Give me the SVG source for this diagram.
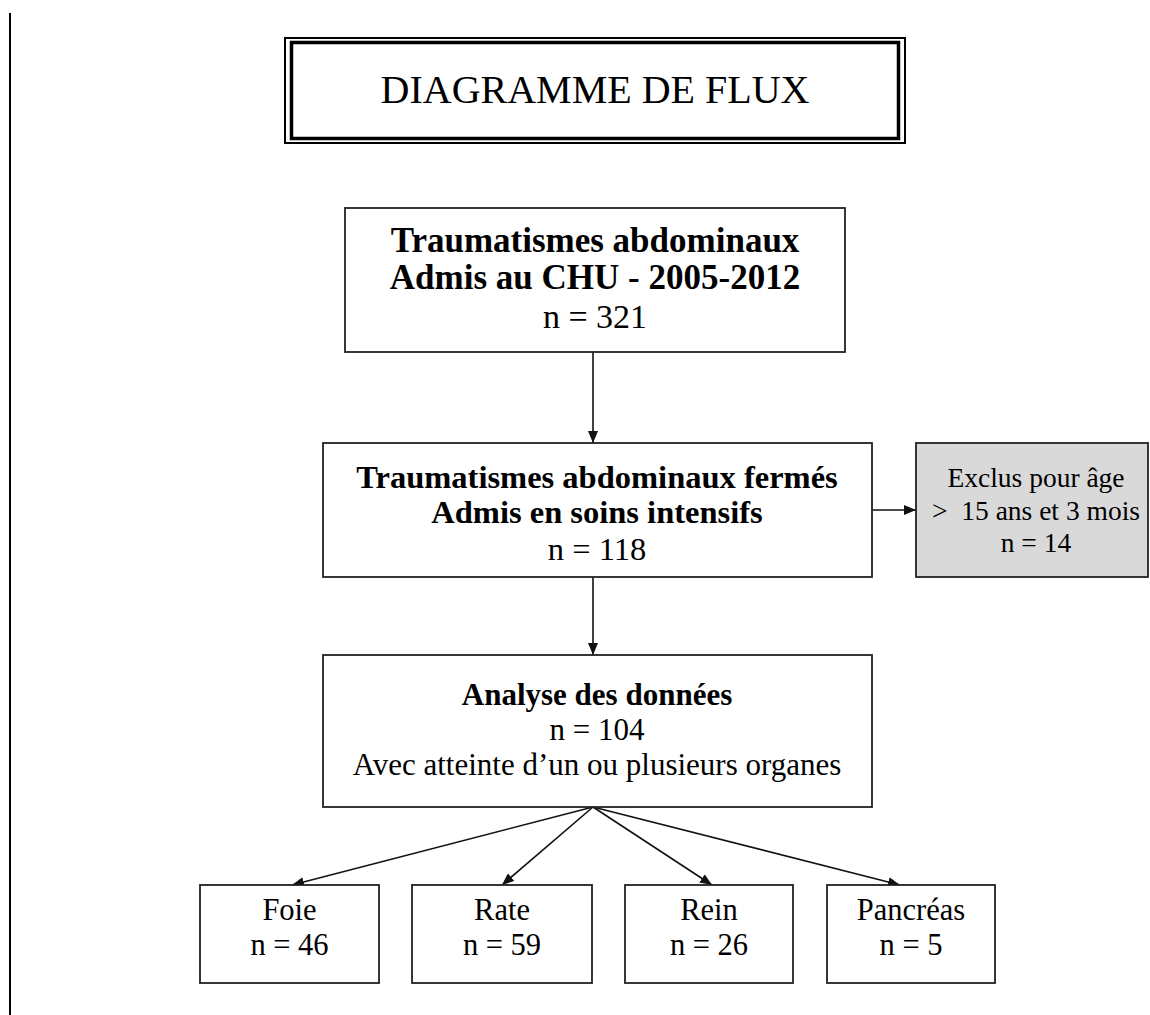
<svg xmlns="http://www.w3.org/2000/svg" width="1150" height="1015" viewBox="0 0 1150 1015">
<defs>
<marker id="ah" markerWidth="12" markerHeight="10" refX="12" refY="5" orient="auto" markerUnits="userSpaceOnUse">
<path d="M0,0 L12,5 L0,10 Z" fill="#111"/>
</marker>
<style>
.box{fill:#fff;stroke:#222;stroke-width:1.8}
.grey{fill:#d9d9d9;stroke:#222;stroke-width:1.8}
.t{font-family:"Liberation Serif","Times New Roman",serif;fill:#000;text-anchor:middle}
.b{font-weight:bold}
.edge{stroke:#111;stroke-width:1.6;fill:none;marker-end:url(#ah)}
</style>
</defs>
<rect width="1150" height="1015" fill="#fff"/>
<line x1="10" y1="13" x2="10" y2="1015" stroke="#000" stroke-width="2"/>
<g id="title">
<rect x="285" y="38" width="620" height="105" fill="#fff" stroke="#000" stroke-width="2"/>
<rect x="291.5" y="42.5" width="607" height="96" fill="none" stroke="#000" stroke-width="3.5"/>
<text class="t" x="595" y="103" font-size="40">DIAGRAMME DE FLUX</text>
</g>
<g id="connectors">
<line class="edge" x1="593" y1="352" x2="593" y2="443"/>
<line class="edge" x1="872" y1="510" x2="916" y2="510"/>
<line class="edge" x1="593" y1="577" x2="593" y2="655"/>
<line class="edge" x1="593" y1="807" x2="292" y2="885"/>
<line class="edge" x1="593" y1="807" x2="502" y2="885"/>
<line class="edge" x1="593" y1="807" x2="712" y2="885"/>
<line class="edge" x1="593" y1="807" x2="900" y2="885"/>
</g>
<g id="n1">
<rect class="box" x="345" y="208" width="500" height="144"/>
<text class="t b" x="595" y="252" font-size="35">Traumatismes abdominaux</text>
<text class="t b" x="595" y="289" font-size="35">Admis au CHU - 2005-2012</text>
<text class="t" x="595" y="328" font-size="34">n = 321</text>
</g>
<g id="n2">
<rect class="box" x="323" y="443" width="549" height="134"/>
<text class="t b" x="597" y="488" font-size="32.5">Traumatismes abdominaux fermés</text>
<text class="t b" x="597" y="523" font-size="32.5">Admis en soins intensifs</text>
<text class="t" x="597" y="560" font-size="32.5">n = 118</text>
</g>
<g id="n_excl">
<rect class="grey" x="916" y="443" width="232" height="134"/>
<text class="t" x="1036" y="487" font-size="27.5">Exclus pour âge</text>
<text class="t" x="1036" y="520" font-size="27.5" xml:space="preserve">&gt;  15 ans et 3 mois</text>
<text class="t" x="1036" y="552" font-size="27.5">n = 14</text>
</g>
<g id="n3">
<rect class="box" x="323" y="655" width="549" height="152"/>
<text class="t b" x="597" y="705" font-size="31">Analyse des données</text>
<text class="t" x="597" y="740" font-size="31">n = 104</text>
<text class="t" x="597" y="775" font-size="31">Avec atteinte d’un ou plusieurs organes</text>
</g>
<g id="n_foie">
<rect class="box" x="200" y="885" width="179" height="98"/>
<text class="t" x="289.5" y="920" font-size="30.5">Foie</text>
<text class="t" x="289.5" y="955" font-size="30.5">n = 46</text>
</g>
<g id="n_rate">
<rect class="box" x="412" y="885" width="180" height="98"/>
<text class="t" x="502" y="920" font-size="30.5">Rate</text>
<text class="t" x="502" y="955" font-size="30.5">n = 59</text>
</g>
<g id="n_rein">
<rect class="box" x="625" y="885" width="168" height="98"/>
<text class="t" x="709" y="920" font-size="30.5">Rein</text>
<text class="t" x="709" y="955" font-size="30.5">n = 26</text>
</g>
<g id="n_panc">
<rect class="box" x="827" y="885" width="168" height="98"/>
<text class="t" x="911" y="920" font-size="30.5">Pancréas</text>
<text class="t" x="911" y="955" font-size="30.5">n = 5</text>
</g>
</svg>
